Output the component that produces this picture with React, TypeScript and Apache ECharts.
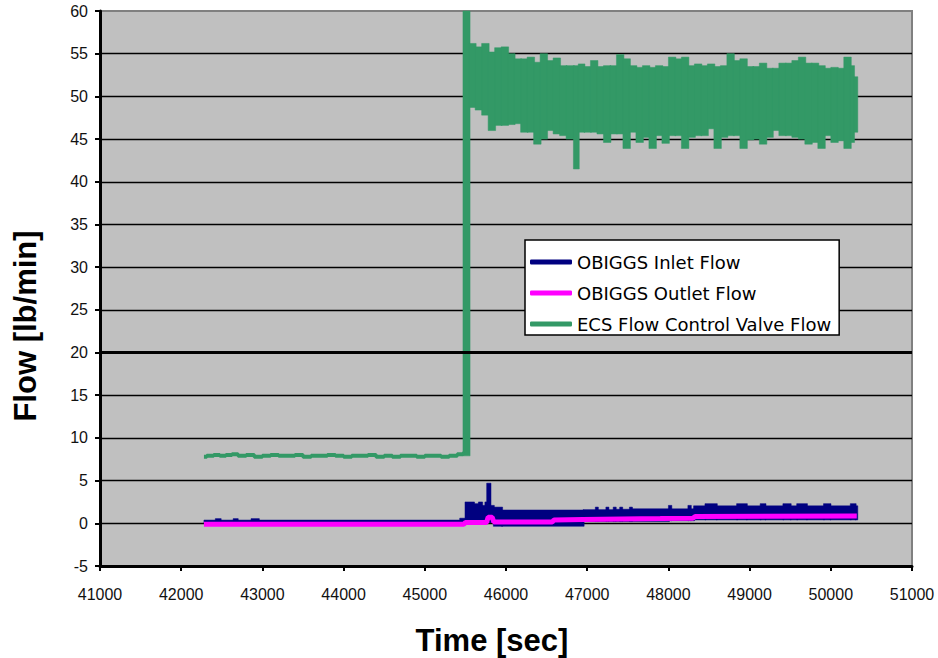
import React, { useEffect, useRef } from "react";
import * as echarts from "echarts";

// ---- Data ----
const xTicks = [41000, 51000, 1000]; // min, max, interval
const yTicks = [-5, 60, 5];

// ECS Flow Control Valve Flow: flat low segment before the step
const ecsFlatX = [42280, 42350, 42450, 42500, 42600, 42650, 42750, 42850, 42950, 43050, 43150, 43250, 43350, 43450, 43550, 43650, 43750, 43850, 43950, 44050, 44150, 44250, 44350, 44450, 44550, 44650, 44750, 44850, 44950, 45050, 45150, 45250, 45350, 45450, 45490];
const ecsFlatY = [7.8, 7.9, 8.0, 7.9, 8.0, 8.1, 7.9, 8.0, 7.8, 7.9, 8.0, 7.9, 7.9, 8.0, 7.8, 7.9, 7.9, 8.0, 7.9, 7.8, 7.9, 7.9, 8.0, 7.8, 7.9, 7.8, 7.9, 7.9, 7.8, 7.9, 7.9, 7.8, 7.9, 8.1, 8.2];

// ECS noisy band after the step: column starts, lower and upper envelopes
const ecsBandX = [45470, 45545, 45620, 45700, 45780, 45860, 45940, 46020, 46100, 46180, 46260, 46340, 46420, 46500, 46580, 46660, 46740, 46830, 46890, 46960, 47040, 47120, 47200, 47280, 47360, 47440, 47520, 47600, 47680, 47760, 47840, 47920, 48000, 48080, 48160, 48240, 48320, 48400, 48480, 48560, 48640, 48720, 48800, 48880, 48960, 49040, 49120, 49200, 49280, 49360, 49440, 49520, 49600, 49680, 49760, 49840, 49920, 50000, 50080, 50160, 50240, 50280];
const ecsBandLow = [7.9, 48.7, 48.4, 47.8, 46.0, 46.6, 46.6, 46.7, 46.8, 45.8, 45.8, 44.4, 45.0, 46.0, 45.6, 45.4, 45.0, 41.5, 45.8, 45.8, 45.8, 45.6, 44.6, 45.6, 45.6, 43.9, 45.8, 44.6, 45.2, 43.9, 45.4, 44.5, 45.4, 45.4, 43.9, 45.2, 45.4, 45.4, 46.2, 43.9, 45.2, 45.4, 45.4, 43.9, 44.9, 45.0, 44.4, 45.2, 46.0, 45.4, 45.4, 45.2, 45.0, 44.4, 44.6, 43.9, 45.4, 44.6, 44.8, 43.9, 44.6, 45.8];
const ecsBandHigh = [60, 56.2, 55.8, 56.2, 55.2, 55.7, 55.8, 55.0, 54.4, 54.4, 54.6, 54.0, 55.0, 54.2, 54.5, 53.6, 53.6, 53.6, 53.8, 53.5, 54.2, 53.5, 53.6, 53.6, 54.9, 54.4, 53.6, 53.4, 53.6, 53.4, 53.6, 53.5, 54.6, 54.4, 54.6, 53.6, 53.8, 53.6, 53.8, 53.5, 53.6, 55.0, 54.2, 54.4, 53.5, 53.5, 53.9, 53.3, 53.3, 53.9, 53.9, 54.2, 54.6, 53.9, 53.9, 53.6, 53.3, 53.4, 53.3, 54.6, 53.6, 52.3];
const ecsBandEnd = 50320;

// OBIGGS Inlet Flow: column starts, lower and upper envelopes
const inletX = [42280, 42420, 42480, 42640, 42690, 42860, 42950, 45430, 45495, 45600, 45660, 45700, 45740, 45762, 45803, 45844, 45946, 46950, 47100, 47125, 47230, 47255, 47320, 47345, 47400, 47425, 47520, 47545, 48000, 48030, 48240, 48270, 48310, 48450, 48590, 48840, 48960, 49130, 49190, 49410, 49500, 49580, 49700, 49910, 49990, 50240, 50300];
const inletLow = [0, 0, 0, 0, 0, 0, 0, 0, 0.1, 0.1, 0.1, 0.1, 0.1, 0.1, 0.1, -0.35, -0.35, 0.2, 0.2, 0.2, 0.2, 0.2, 0.2, 0.2, 0.2, 0.2, 0.2, 0.2, 0.3, 0.3, 0.3, 0.3, 0.4, 0.4, 0.4, 0.4, 0.4, 0.4, 0.4, 0.4, 0.4, 0.4, 0.4, 0.4, 0.4, 0.4, 0.4];
const inletHigh = [0.38, 0.55, 0.38, 0.55, 0.38, 0.55, 0.38, 0.6, 2.5, 2.3, 2.5, 2.1, 2.5, 4.7, 2.1, 1.9, 1.56, 1.6, 1.9, 1.6, 1.9, 1.6, 1.9, 1.65, 1.9, 1.65, 1.9, 1.7, 2.1, 1.7, 2.1, 1.7, 2.05, 2.3, 2.05, 2.3, 2.05, 2.3, 2.05, 2.3, 2.05, 2.3, 2.05, 2.3, 2.05, 2.3, 2.05];
const inletEnd = 50320;

// OBIGGS Outlet Flow
const outletX = [42280, 45480, 45500, 45760, 45780, 45830, 45850, 46570, 46590, 46950, 47900, 48300, 48330, 50320];
const outletY = [-0.1, -0.1, 0.1, 0.1, 0.7, 0.7, 0.15, 0.15, 0.4, 0.45, 0.55, 0.6, 0.8, 0.85];

const seriesNames = ["OBIGGS Inlet Flow", "OBIGGS Outlet Flow", "ECS Flow Control Valve Flow"];
const colors = ["#000080", "#ff00ff", "#339966"];

function columns(xs: number[], lo: number[], hi: number[], end: number) {
  return xs.map((x, i) => [x, i + 1 < xs.length ? xs[i + 1] : end, lo[i], hi[i]]);
}

function bandRenderer(color: string) {
  return (params: any, api: any) => {
    const x0 = api.value(0);
    const x1 = api.value(1);
    const lo = api.value(2);
    const hi = api.value(3);
    const p0 = api.coord([x0, hi]);
    const p1 = api.coord([x1, lo]);
    return {
      type: "rect",
      shape: { x: p0[0], y: p0[1], width: p1[0] - p0[0] + 1, height: p1[1] - p0[1] },
      style: { fill: color, stroke: color, lineWidth: 0.5 },
    };
  };
}

export default function App() {
  const ref = useRef<HTMLDivElement>(null);
  useEffect(() => {
    if (!ref.current) return;
    const chart = echarts.init(ref.current, undefined, { renderer: "svg" });
    const font = '"Liberation Sans", Arial, sans-serif';
    const option: any = {
      animation: false,
      backgroundColor: "#ffffff",
      grid: {
        left: 100,
        right: 26,
        top: 11,
        bottom: 92,
        show: true,
        backgroundColor: "#c0c0c0",
        borderColor: "#808080",
        borderWidth: 2,
      },
      xAxis: {
        type: "value",
        min: xTicks[0],
        max: xTicks[1],
        interval: xTicks[2],
        axisLine: { show: true, onZero: false, lineStyle: { color: "#000", width: 3 } },
        axisTick: { show: true, length: 5, lineStyle: { color: "#000", width: 2 } },
        axisLabel: { formatter: (v: number) => String(v), fontSize: 16, fontFamily: font, color: "#111", margin: 20 },
        splitLine: { show: false },
      },
      yAxis: {
        type: "value",
        min: yTicks[0],
        max: yTicks[1],
        interval: yTicks[2],
        axisLine: { show: true, lineStyle: { color: "#000", width: 3 } },
        axisTick: { show: true, length: 5, lineStyle: { color: "#000", width: 2 } },
        axisLabel: { fontSize: 16, fontFamily: font, color: "#111", margin: 12 },
        splitLine: { show: true, showMaxLine: false, showMinLine: false, lineStyle: { color: "#000", width: 1.3 } },
      },
      legend: {
        orient: "vertical",
        left: 525,
        top: 240,
        icon: "roundRect",
        itemWidth: 42,
        itemHeight: 5,
        itemGap: 11,
        padding: [12, 8, 1, 5],
        backgroundColor: "#ffffff",
        borderColor: "#000000",
        borderWidth: 1.5,
        borderRadius: 0,
        data: seriesNames.map((n) => ({ name: n, icon: "roundRect" })),
        textStyle: { fontFamily: '"DejaVu Sans", sans-serif', fontSize: 18, color: "#000", lineHeight: 20 },
      },
      graphic: [
        {
          type: "text",
          x: 25,
          y: 326,
          rotation: Math.PI / 2,
          style: {
            text: "Flow [lb/min]",
            font: 'bold 31px "Liberation Sans", Arial, sans-serif',
            fill: "#000",
            align: "center",
            verticalAlign: "middle",
            textAlign: "center",
            textVerticalAlign: "middle",
          },
        },
        {
          type: "text",
          x: 492,
          y: 640,
          style: {
            text: "Time [sec]",
            font: 'bold 31px "Liberation Sans", Arial, sans-serif',
            fill: "#000",
            align: "center",
            verticalAlign: "middle",
            textAlign: "center",
            textVerticalAlign: "middle",
          },
        },
      ],
      series: [
        {
          name: seriesNames[2],
          type: "custom",
          itemStyle: { color: colors[2] },
          encode: { x: [0, 1], y: [2, 3] },
          renderItem: bandRenderer(colors[2]),
          data: columns(ecsBandX, ecsBandLow, ecsBandHigh, ecsBandEnd),
          z: 2,
        },
        {
          name: seriesNames[2],
          type: "line",
          step: "middle",
          showSymbol: false,
          color: colors[2],
          lineStyle: { color: colors[2], width: 4 },
          data: ecsFlatX.map((x, i) => [x, ecsFlatY[i]]),
          z: 2,
        },
        {
          name: seriesNames[0],
          type: "custom",
          itemStyle: { color: colors[0] },
          encode: { x: [0, 1], y: [2, 3] },
          renderItem: bandRenderer(colors[0]),
          data: columns(inletX, inletLow, inletHigh, inletEnd),
          z: 3,
        },
        {
          name: seriesNames[1],
          type: "line",
          showSymbol: false,
          color: colors[1],
          lineStyle: { color: colors[1], width: 5 },
          data: outletX.map((x, i) => [x, outletY[i]]),
          z: 4,
          markLine: {
            silent: true,
            symbol: "none",
            label: { show: false },
            lineStyle: { color: "#000", width: 3, type: "solid" },
            data: [{ yAxis: 20 }],
          },
        },
      ],
    };
    chart.setOption(option);
    return () => chart.dispose();
  }, []);
  return <div ref={ref} style={{ position: "absolute", left: 0, top: 0, width: 938, height: 658 }} />;
}
